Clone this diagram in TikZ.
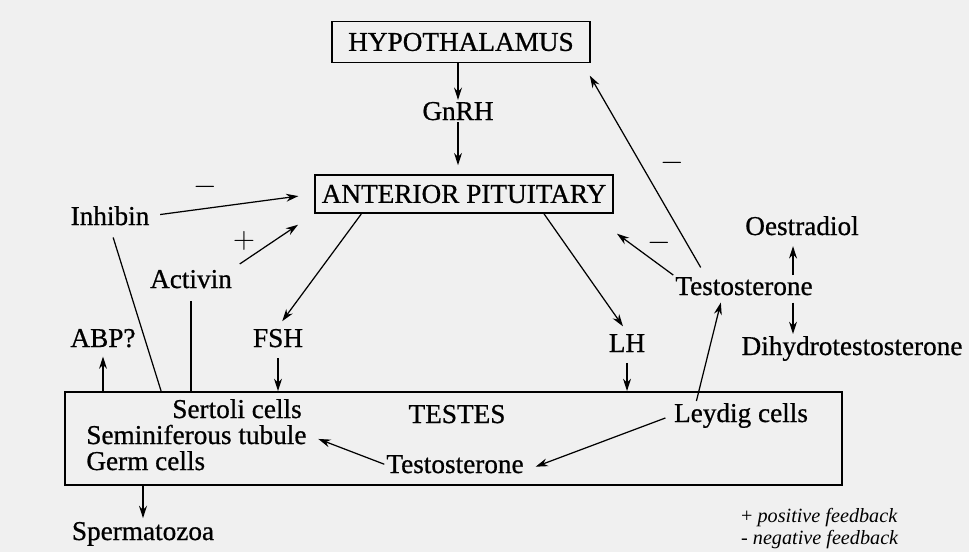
\documentclass[tikz,border=0pt]{standalone}
\usepackage{fontspec}
\setmainfont{Liberation Serif}
\newfontfamily\scanfont{Liberation Serif}[FakeBold=0.7]
\usetikzlibrary{arrows.meta, positioning}

\tikzset{
  lbl/.style={font=\scanfont\fontsize{15.5}{18}\selectfont, inner sep=1pt},
  gland/.style={lbl, draw, line width=1.1pt},
  arr/.style={-{Stealth[length=7pt, width=4.5pt]}, line width=0.7pt},
  link/.style={line width=0.7pt},
  sign/.style={font=\fontsize{18}{18}\selectfont, inner sep=0pt},
  key/.style={font=\fontsize{11.5}{13}\selectfont\itshape, inner sep=1pt, anchor=base west},
}

\begin{document}
\begin{tikzpicture}[x=0.02cm, y=-0.02cm]
  \fill[black!6] (0,0) rectangle (969,552);
  \useasboundingbox (0,0) rectangle (969,552);

  % glands
  \node[gland, minimum width=5.16cm, minimum height=0.82cm] (hyp) at (461,42) {HYPOTHALAMUS};
  \node[gland, minimum width=5.96cm, minimum height=0.76cm] (ap) at (464,194) {ANTERIOR PITUITARY};
  \node[draw, line width=1.1pt, minimum width=15.54cm, minimum height=1.86cm] (box) at (453.5,438.5) {};

  % hormones and cells
  \node[lbl, anchor=base] (gnrh) at (458,120) {GnRH};
  \node[lbl, anchor=base] (inhibin) at (110,225) {Inhibin};
  \node[lbl, anchor=base] (activin) at (191,288) {Activin};
  \node[lbl, anchor=base] (abp) at (103,347) {ABP?};
  \node[lbl, anchor=base] (fsh) at (278,347) {FSH};
  \node[lbl, anchor=base] (lh) at (627,352) {LH};
  \node[lbl, anchor=base] (testoR) at (744,295) {Testosterone};
  \node[lbl, anchor=base] (oest) at (802,235) {Oestradiol};
  \node[lbl, anchor=base] (dht) at (852,355) {Dihydrotestosterone};
  \node[lbl, anchor=base] (testes) at (457,423) {TESTES};
  \node[lbl, anchor=base] (sertoli) at (237,418) {Sertoli cells};
  \node[lbl, inner sep=0pt, anchor=base west] (semi) at (86,444) {Seminiferous tubule};
  \node[lbl, inner sep=0pt, anchor=base west] (germ) at (86,470) {Germ cells};
  \node[lbl, anchor=base] (leydig) at (741,422) {Leydig cells};
  \node[lbl, anchor=base] (testoB) at (455,473) {Testosterone};
  \node[lbl, anchor=base] (sperm) at (143,540) {Spermatozoa};
  \coordinate (steroid) at (793,286);

  % feedback signs
  \node[sign] (m1) at (205,187) {$-$};
  \node[sign] (p1) at (244,241) {$+$};
  \node[sign] (m2) at (659,243) {$-$};
  \node[sign] (m3) at (672,163) {$-$};

  % axis
  \draw[arr] (hyp.south -| gnrh) -- (gnrh);
  \draw[arr, shorten >=5pt] (gnrh) -- (gnrh |- ap.north);
  \draw[arr, shorten <=5pt, shorten >=9pt] (inhibin.east) -- (ap.west);
  \draw[arr, shorten <=4pt, shorten >=11pt] (activin.north east) -- (ap.south west);
  \draw[arr, shorten >=4pt] (ap.-169) -- (fsh.north);
  \draw[arr, shorten <=5pt] (fsh) -- (fsh |- box.north);
  \draw[arr, shorten >=4pt] (ap.-14) -- (lh.north);
  \draw[arr, shorten <=5pt] (lh) -- (lh |- box.north);
  \draw[link, shorten <=6pt] (inhibin.south) -- ([xshift=1.94cm]box.north west);
  \draw[link, shorten <=6pt] (activin.south) -- (activin |- box.north);
  \draw[arr, shorten >=4pt] (abp |- box.north) -- (abp.south);
  \draw[arr, shorten >=1pt] (sperm |- box.south) -- (sperm.north);

  % testosterone
  \draw[arr, shorten >=3pt] (leydig.162) -- (testoR.-153);
  \draw[arr, shorten >=19pt] (testoR.north west) -- (ap.-9);
  \draw[arr, shorten <=5pt, shorten >=8pt] (testoR.164) -- (hyp.-10);
  \draw[arr, shorten >=5pt] (steroid |- testoR.north) -- (steroid |- oest.south);
  \draw[arr, shorten <=3pt] (steroid |- testoR.south) -- (steroid |- dht.north);
  \draw[arr, shorten <=4pt, shorten >=6pt] (leydig.west) -- (testoB.-5);
  \draw[arr, shorten >=7pt] (testoB.west) -- (semi.east);

  % key
  \node[key] (kpos) at (739,522) {{\upshape+} positive feedback};
  \node[key] (kneg) at (739,544) {{\upshape-} negative feedback};
\end{tikzpicture}
\end{document}
